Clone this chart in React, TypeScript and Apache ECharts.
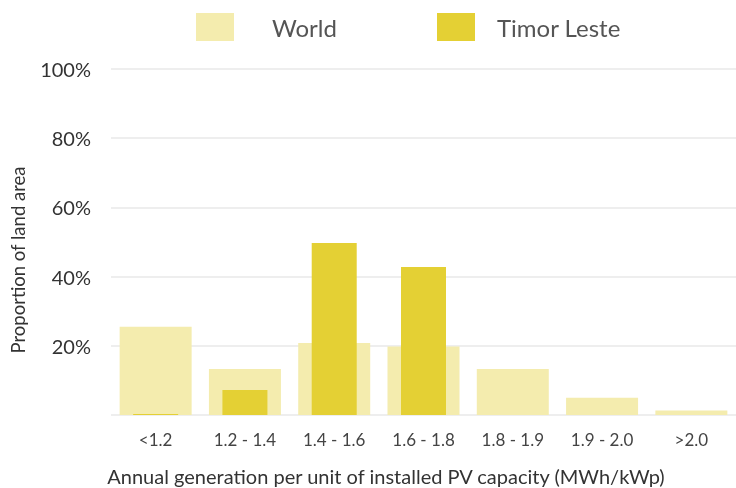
import React, { useEffect, useRef } from "react";
import * as echarts from "echarts";

const categories = ["<1.2", "1.2 - 1.4", "1.4 - 1.6", "1.6 - 1.8", "1.8 - 1.9", "1.9 - 2.0", ">2.0"];
const worldValues = [25.5, 13.3, 20.8, 19.8, 13.3, 5.0, 1.3];
const timorValues = [0.3, 7.2, 49.7, 42.8, 0, 0, 0];
const yTicks = [0, 20, 40, 60, 80, 100];

const FONT = "Lato";

const legendBase = {
  top: 13,
  padding: 0,
  itemWidth: 38,
  itemHeight: 28,
  icon: "rect",
};

export default function App() {
  const ref = useRef<HTMLDivElement>(null);
  useEffect(() => {
    const chart = echarts.init(ref.current!, null, { renderer: "svg" });
    chart.setOption({
      animation: false,
      legend: [
        {
          ...legendBase,
          left: 196,
          textStyle: { fontFamily: FONT, fontSize: 24, color: "#555555", padding: [0, 0, 0, 33] },
          data: ["World"],
        },
        {
          ...legendBase,
          left: 437,
          textStyle: { fontFamily: FONT, fontSize: 24, color: "#555555", padding: [0, 0, 0, 17] },
          data: ["Timor Leste"],
        },
      ],
      grid: { left: 111, right: 0, top: 69, bottom: 73, containLabel: false },
      xAxis: [
        {
          type: "category",
          data: categories,
          axisLine: { show: false },
          axisTick: { show: false },
          axisLabel: { fontFamily: FONT, fontSize: 17, color: "#444444", margin: 16 },
        },
        { type: "category", data: categories, show: false },
      ],
      yAxis: {
        type: "value",
        min: yTicks[0],
        max: yTicks[yTicks.length - 1],
        interval: 20,
        axisLine: { show: false },
        axisTick: { show: false },
        axisLabel: {
          fontFamily: FONT,
          fontSize: 20,
          color: "#333333",
          margin: 20,
          formatter: (v: number) => (v === 0 ? "" : v + "%"),
        },
        splitLine: { lineStyle: { color: "#EEEEEE", width: 2 } },
      },
      graphic: [
        {
          type: "text",
          x: 18,
          y: 260,
          rotation: Math.PI / 2,
          style: {
            text: "Proportion of land area",
            fontFamily: FONT,
            fontSize: 18.5,
            fill: "#333333",
            align: "center",
            verticalAlign: "middle",
          },
        },
        {
          type: "text",
          x: 386,
          y: 476,
          style: {
            text: "Annual generation per unit of installed PV capacity (MWh/kWp)",
            fontFamily: FONT,
            fontSize: 20,
            fill: "#333333",
            align: "center",
            verticalAlign: "middle",
          },
        },
      ],
      series: [
        {
          name: "World",
          type: "bar",
          xAxisIndex: 0,
          data: worldValues,
          barWidth: 72,
          itemStyle: { color: "#F4ECAE" },
        },
        {
          name: "Timor Leste",
          type: "bar",
          xAxisIndex: 1,
          data: timorValues,
          barWidth: 45,
          itemStyle: { color: "#E4D034" },
        },
      ],
    });
    return () => chart.dispose();
  }, []);
  return <div ref={ref} style={{ position: "fixed", left: 0, top: 0, width: 736, height: 488 }} />;
}
